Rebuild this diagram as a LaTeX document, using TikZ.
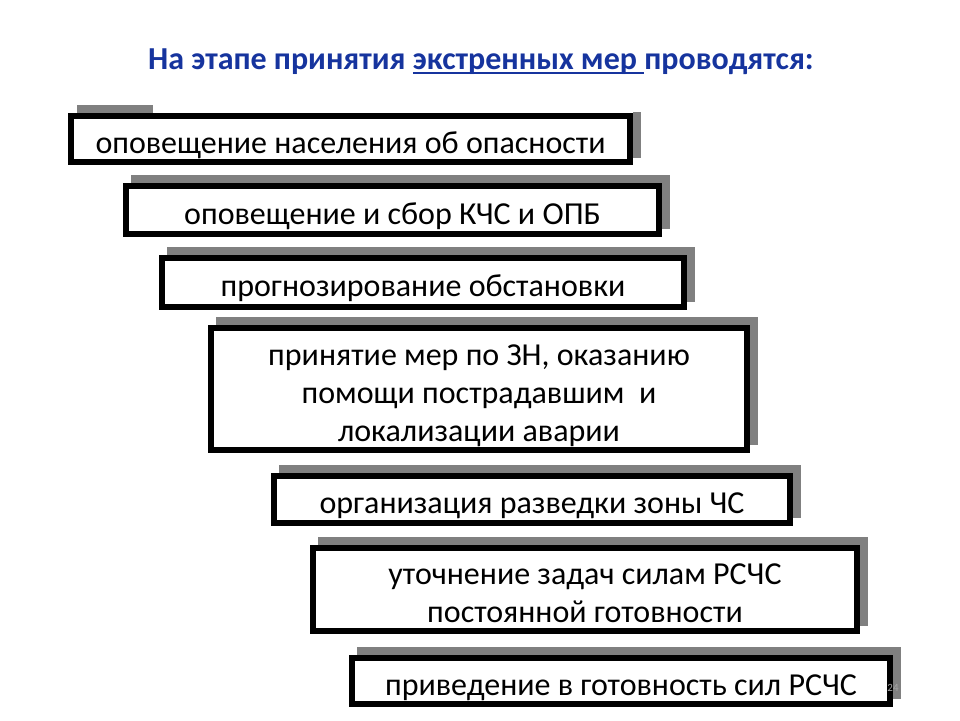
\documentclass[tikz,border=0pt]{standalone}
\usepackage{fontspec}
\setmainfont{Carlito}
\usetikzlibrary{backgrounds,calc}
\definecolor{titleblue}{RGB}{22,52,158}
\definecolor{shadowgray}{RGB}{128,128,128}
\newcommand\myul[1]{\setbox0\hbox{#1}\rlap{\rule[-4pt]{\wd0}{2pt}}\box0}
\begin{document}
\begin{tikzpicture}[x=1pt,y=-1pt,
  stepbox/.style={draw=black, line width=6pt, fill=white, inner sep=0pt, outer sep=3pt,
    font=\fontsize{32}{38}\selectfont, align=flush center, text=black, text width=#1,
    execute at begin node={\rule{0pt}{36pt}},
    execute at end node={\rule[-8pt]{0pt}{0pt}}},
  shade/.style={fill=shadowgray},
  titletext/.style={font=\bfseries\fontsize{32}{36}\selectfont, text=titleblue}]
\useasboundingbox (0,0) rectangle (960,720);

\node[titletext] (title) at (481,62) {На этапе принятия \myul{экстренных мер\ }проводятся:};

\node[stepbox=559pt, minimum height=46pt] (b1) at (350.5,139) {оповещение населения об опасности};
\node[stepbox=533pt, minimum height=48pt] (b2) at (392.5,210) {оповещение и сбор КЧС и ОПБ};
\node[stepbox=522pt, minimum height=49pt] (b3) at (423,282.5) {прогнозирование обстановки};
\node[stepbox=536pt, minimum height=122pt] (b4) at (479,389) {принятие мер по ЗН, оказанию\\помощи пострадавшим\ \ и\\локализации аварии};
\node[stepbox=516pt, minimum height=47pt] (b5) at (532,499.5) {организация разведки зоны ЧС};
\node[stepbox=544pt, minimum height=83pt] (b6) at (585,589.5) {уточнение задач силам РСЧС\\постоянной готовности};
\node[stepbox=538pt, minimum height=46pt] (b7) at (621,681) {приведение в готовность сил РСЧС};

\begin{scope}[on background layer]
  \fill[white] (0,0) rectangle (960,720);
  % partial shadow of the first box
  \fill[shade] ($(b1.north west)+(9,-8)$) rectangle ($(b1.north west)+(85,0)$);
  \fill[shade] ($(b1.north east)+(0,-1)$) rectangle ($(b1.south east)+(8,-7)$);
  \foreach \b in {b2,b3,b4,b5,b6,b7}{
    \fill[shade] ($(\b.north west)+(8,-8)$) rectangle ($(\b.south east)+(8,-8)$);
  }
\end{scope}

\node[font=\fontsize{11}{13}\selectfont, text=gray!70] (pnum) at (893,688) {24};
\end{tikzpicture}
\end{document}
